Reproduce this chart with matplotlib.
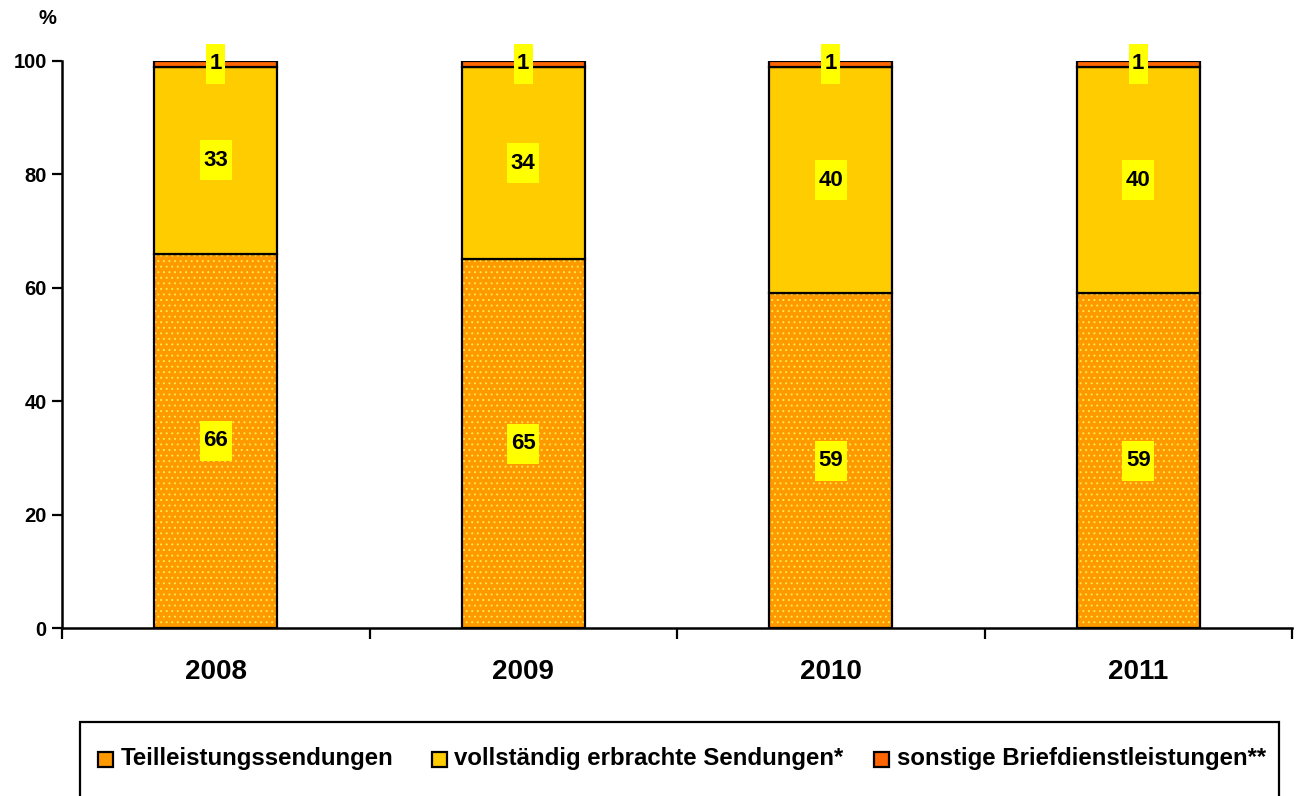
import matplotlib
matplotlib.use("Agg")
import matplotlib.pyplot as plt
from matplotlib.patches import Rectangle
import numpy as np

# Shares of letter volume by service type, in percent
years = ["2008", "2009", "2010", "2011"]
teilleistung = [66, 65, 59, 59]
vollstaendig = [33, 34, 40, 40]
sonstige = [1, 1, 1, 1]
series_names = ["Teilleistungssendungen",
                "vollständig erbrachte Sendungen*",
                "sonstige Briefdienstleistungen**"]
y_ticks = [0, 20, 40, 60, 80, 100]

c_orange = "#FF9900"
c_yellow = "#FFCC00"
c_red = "#FF6600"
c_dots = "#FFE94A"
c_label = "#FFFF00"

plt.rcParams["font.family"] = ["Liberation Sans", "DejaVu Sans"]
plt.rcParams["font.weight"] = "bold"
plt.rcParams["hatch.linewidth"] = 0.7

W, H = 1297, 796
fig = plt.figure(figsize=(W / 100, H / 100), dpi=100)
ax = fig.add_axes([62 / W, (H - 628) / H, (1292 - 62) / W, (628 - 61) / H])

x = np.arange(len(years))
bw = 0.4
t = np.array(teilleistung, float)
v = np.array(vollstaendig, float)
s = np.array(sonstige, float)

# bottom segment: dotted orange fill, then black outline
ax.bar(x, t, bw, color=c_orange, edgecolor=c_dots, hatch="...", linewidth=0, zorder=2)
ax.bar(x, t, bw, fill=False, edgecolor="black", linewidth=1.6, zorder=3)
ax.bar(x, v, bw, bottom=t, color=c_yellow, edgecolor="black", linewidth=1.6, zorder=3)
ax.bar(x, s, bw, bottom=t + v, color=c_red, edgecolor="black", linewidth=1.6, zorder=3)

ax.set_xlim(-0.5, len(years) - 0.5)
ax.set_ylim(0, 100)
ax.set_yticks(y_ticks)
ax.set_yticklabels([str(v_) for v_ in y_ticks], fontsize=14.5, fontweight="bold")
ax.set_xticks(x)
ax.set_xticklabels(years, fontsize=20, fontweight="bold")
ax.tick_params(axis="x", which="major", length=0, pad=22)
ax.set_xticks(np.arange(-0.5, len(years)), minor=True)
ax.tick_params(axis="x", which="minor", length=8, width=1.6, direction="out")
ax.tick_params(axis="y", length=7, width=1.6, direction="out", pad=4)
for side in ("top", "right"):
    ax.spines[side].set_visible(False)
for side in ("left", "bottom"):
    ax.spines[side].set_linewidth(1.8)
    ax.spines[side].set_zorder(4)

fig.text(47 / W, 1 - 18 / H, "%", ha="center", va="center", fontsize=14.5, fontweight="bold")

# value labels centred in each segment, drawn over a yellow tag
label_specs = []
for i in range(len(years)):
    for val, bottom in ((t[i], 0), (v[i], t[i]), (s[i], t[i] + v[i])):
        label_specs.append((x[i], bottom + val / 2, f"{val:.0f}"))

fig.canvas.draw()
renderer = fig.canvas.get_renderer()
for xv, yv, s_txt in label_specs:
    px, py = ax.transData.transform((xv, yv))
    txt = fig.text(px / W, py / H, s_txt, ha="center", va="center",
                   fontsize=16, fontweight="bold", zorder=7)
    bb = txt.get_window_extent(renderer)
    w = bb.width + 7
    h = 40
    fig.patches.append(Rectangle(((px - w / 2) / W, (py - h / 2) / H), w / W, h / H,
                                 transform=fig.transFigure, facecolor=c_label,
                                 edgecolor="none", zorder=5))

# legend frame and entries
fig.patches.append(Rectangle((80 / W, -0.05), (1279 - 80) / W, 0.05 + (H - 722) / H,
                             transform=fig.transFigure, facecolor="white",
                             edgecolor="black", linewidth=1.6, zorder=1))
leg_y = H - 759
entries = [(98, 121, c_orange), (432, 454, c_yellow), (874, 897, c_red)]
for (sx, tx, col), name in zip(entries, series_names):
    sq = 15
    fig.patches.append(Rectangle((sx / W, (leg_y - sq / 2) / H), sq / W, sq / H,
                                 transform=fig.transFigure, facecolor=col,
                                 edgecolor="black", linewidth=1.6, zorder=3))
    fig.text(tx / W, leg_y / H, name, ha="left", va="center", fontsize=17.3,
             fontweight="bold", zorder=3)

fig.savefig("out.png", dpi=100)
